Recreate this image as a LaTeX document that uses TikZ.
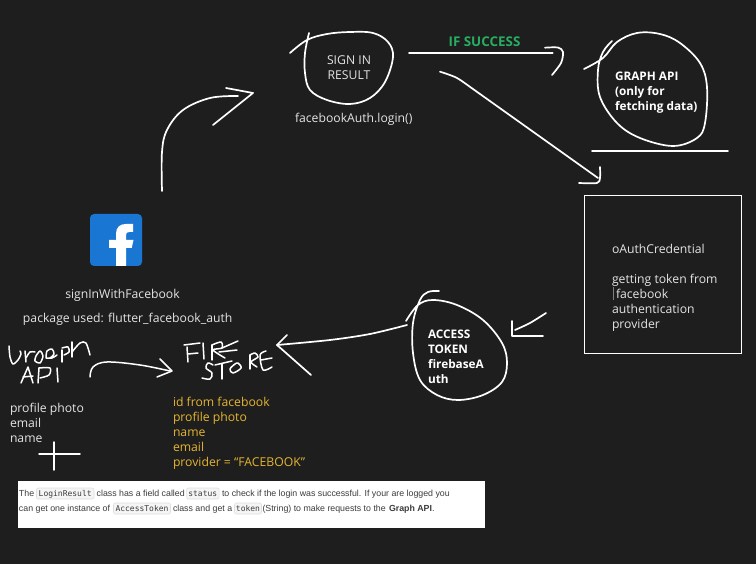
\documentclass[tikz,border=0pt]{standalone}
\usepackage{fontspec}
\setmainfont{Open Sans}
\newfontfamily\chipfont{DejaVu Sans Mono}
\newfontfamily\panelfont{Liberation Sans}
\definecolor{bg}{HTML}{1E1E1E}
\definecolor{ink}{HTML}{E4E4E4}
\definecolor{gold}{HTML}{E5B52F}
\definecolor{okgreen}{HTML}{27AE60}
\definecolor{fbblue}{HTML}{1976D2}
\definecolor{chipfill}{HTML}{F5F5F6}
\definecolor{chipline}{HTML}{DEDEE0}
\definecolor{paneltext}{HTML}{3C3C3C}
\tikzset{
  hand/.style={draw=white,line width=1.7pt,line cap=round,line join=round},
  thin hand/.style={hand,line width=1.5pt},
  label/.style={inner sep=0pt,outer sep=0pt,text=ink,font=\fontsize{12.2}{15}\selectfont},
  boldlabel/.style={label,text=white,font=\fontsize{11.8}{15}\selectfont\bfseries},
  golden/.style={label,text=gold},
  frag/.style={inner sep=0pt,outer sep=0pt,anchor=base west,text=paneltext,font=\panelfont\fontsize{8.8}{10}\selectfont},
  chip/.style={inner sep=0pt,outer sep=0pt,anchor=center,draw=chipline,fill=chipfill,line width=.6pt,rounded corners=2pt,text height=8pt,text depth=3pt,text=paneltext,font=\chipfont\fontsize{8}{10}\selectfont}
}
\begin{document}
\begin{tikzpicture}[x=1pt,y=-1pt]
\useasboundingbox (0,0) rectangle (756,564);
\fill[bg] (0,0) rectangle (756,564);

% bottom panel
\fill[white] (18,481) rectangle (485,528);
\node[frag] (t1) at (19,496) {The};
\node[chip,minimum width=57.5pt] (c1) at (65.2,493.5) {LoginResult};
\node[frag] (t2) at (96.7,496) {class has a field called};
\node[chip,minimum width=32.5pt] (c2) at (202.8,493.5) {status};
\node[frag] (t3) at (222,496) {to check if the login was successful. If your are logged you};
\node[frag] (t4) at (19,511) {can get one instance of};
\node[chip,minimum width=57pt] (c3) at (142,508.5) {AccessToken};
\node[frag] (t5) at (173,511) {class and get a};
\node[chip,minimum width=27pt] (c4) at (248,508.5) {token};
\node[frag] (t6) at (262.5,511) {(String) to make requests to the};
\node[frag] (t7) at (389,511) {\textbf{Graph API}.};

% Facebook icon
\fill[fbblue,rounded corners=4pt] (90,214) rectangle (142,266);
\fill[white] (116,266) -- (116,248) -- (109,248) -- (109,240) -- (116,240) -- (116,234)
  .. controls (116,227) and (120,224) .. (126,224) -- (133,224) -- (133,232) -- (129.5,232)
  .. controls (127,232) and (126,233) .. (126,235) -- (126,240) -- (133.5,240) -- (131.7,248) -- (126,248) -- (126,266) -- cycle;

% labels
\node[label] (fb) at (122.5,295) {signInWithFacebook};
\node[label,anchor=west] (pkg) at (23,319.5) {package used: flutter\_facebook\_auth};
\node[label,align=center] (sir) at (349,67.5) {SIGN IN\\RESULT};
\node[label,anchor=west] (login) at (295,119.5) {facebookAuth.login()};
\node[boldlabel,text=okgreen,font=\fontsize{13.4}{15}\selectfont\bfseries] (succ) at (484.5,41.5) {IF SUCCESS};
\node[boldlabel,anchor=west,align=left] (graph) at (615,92.5) {GRAPH API\\(only for\\fetching data)};
\node[boldlabel,anchor=west,align=left] (access) at (428,356.5) {ACCESS\\TOKEN\\firebaseA\\uth};
\node[label,anchor=west,align=left] (gl) at (10,422.5) {profile photo\\email\\name};
\node[golden,anchor=west,align=left] (fl) at (173,433.5) {id from facebook\\profile photo\\name\\email\\provider = “FACEBOOK”};

% oAuth box
\draw[white,line width=1pt] (584.5,195.5) rectangle (741,354);
\node[label,anchor=west,align=left] (oauth) at (612,288) {oAuthCredential\\[15pt]getting token from\\\hspace{4pt}facebook\\authentication\\provider};
\draw[draw=gray,line width=1pt] (613.5,287.5) -- (613.5,300.5);

% sign-in loop
\draw[hand] plot[smooth,tension=.6] coordinates {(309,33) (305,53) (305,73) (310,90) (327,100) (350,104) (370,98) (385,82) (393,57) (388,42) (373,33) (350,32) (327,34) (307,40) (290,53)};
% if success arrow
\draw[hand] (409,53.3) -- (552.7,53.3);
\draw[hand] plot[smooth,tension=.5] coordinates {(545,47.7) (558,47.5) (563,52) (561,63) (552,75)};
% diagonal arrow
\draw[hand] plot[smooth,tension=.4] coordinates {(440,71.7) (457,78) (480,94) (598,178)};
\draw[hand] plot[smooth,tension=.5] coordinates {(600,167) (600,178) (597,183) (579,183)};
% graph loop
\draw[hand] plot[smooth,tension=.6] coordinates {(612,41) (603,52) (598,70) (600,97) (617,123) (640,138) (673,146) (697,138) (705,123) (707,87) (700,63) (680,43) (660,34) (637,33) (617,42) (603,58) (584,69)};
\draw[hand] (592,150.7) -- (728,150.7);
% access loop
\draw[hand] plot[smooth,tension=.6] coordinates {(439,291) (428,292) (420,300) (413,323) (413,353) (420,380) (437,395) (458,400) (483,395) (502,382) (507,363) (502,343) (483,320) (457,305) (433,300) (418,305) (406,321)};
% small arrow
\draw[hand] plot[smooth,tension=.5] coordinates {(546,313) (530,323) (515,330)};
\draw[hand] (512,321) -- (512,336) -- (543,336);
% long arrow to Firestore
\draw[hand] plot[smooth,tension=.5] coordinates {(407,325) (370,334) (330,340) (277,345)};
\draw[hand] (287,335) -- (277,345) -- (311,375);
% first curved arrow
\draw[hand] plot[smooth,tension=.6] coordinates {(162,191) (162,152) (167,130) (183,110) (210,98) (238,96)};
\draw[hand] (226,88) -- (253,93) -- (213,125);
% Graph to Firestore arrow
\draw[thin hand] plot[smooth,tension=.6] coordinates {(90,377) (93,367) (107,362) (140,365) (170,371)};
\draw[thin hand] (160,359) -- (172,371) -- (157,377);
% plus
\draw[thin hand] (39,454) -- (80,454);
\draw[thin hand] (54,442) -- (54,470);

% handwriting: Graph
\begin{scope}[thin hand]
\draw plot[smooth,tension=.5] coordinates {(9,346) (10,357) (13,364) (18,360) (21,354) (20,351)};
\draw (25,351) -- (26,362);
\draw plot[smooth,tension=.5] coordinates {(26,358) (30,352) (35,352)};
\draw plot[smooth,tension=.5] coordinates {(36,356) (40,351) (43,356) (40,363) (35,361) (36,356)};
\draw plot[smooth,tension=.5] coordinates {(46,358) (47,351) (52,349) (54,354) (50,358) (46,358) (52,358) (57,355)};
\draw (62,350) -- (62,362);
\draw plot[smooth,tension=.5] coordinates {(62,348) (68,347) (69,352) (64,355)};
\draw (72,342) -- (72,357);
\draw plot[smooth,tension=.5] coordinates {(72,352) (80,343) (86,343) (90,355)};
% API
\draw (21,383) -- (28,367) -- (33,383);
\draw (23,377) -- (33,376);
\draw (38,383) -- (39,368);
\draw plot[smooth,tension=.5] coordinates {(39,368) (50,368) (49,375) (40,378)};
\draw (57,368) -- (58,382);
% FIRE
\draw (188,362) -- (187,347);
\draw (184,345) -- (200,343);
\draw (188,354) -- (198,353);
\draw (203,343) -- (204,359);
\draw (212,360) -- (212,345);
\draw plot[smooth,tension=.5] coordinates {(212,345) (221,342) (222,348) (213,350) (225,358)};
\draw (238,341) -- (222,348);
\draw (219,352) -- (237,350);
% STORE
\draw plot[smooth,tension=.6] coordinates {(213,365) (208,363) (206,368) (212,373) (210,379) (202,378)};
\draw (215,365) -- (232,361);
\draw (222,364) -- (222,379);
\draw plot[smooth,tension=.6] coordinates {(235,364) (230,369) (233,373) (241,368) (238,363) (235,364)};
\draw (250,369) -- (250,355);
\draw plot[smooth,tension=.5] coordinates {(250,355) (255,353) (258,357) (251,362) (257,367)};
\draw plot[smooth,tension=.5] coordinates {(266,351) (260,355) (263,370) (272,367)};
\draw (261,360) -- (272,358);
\end{scope}
\end{tikzpicture}
\end{document}
